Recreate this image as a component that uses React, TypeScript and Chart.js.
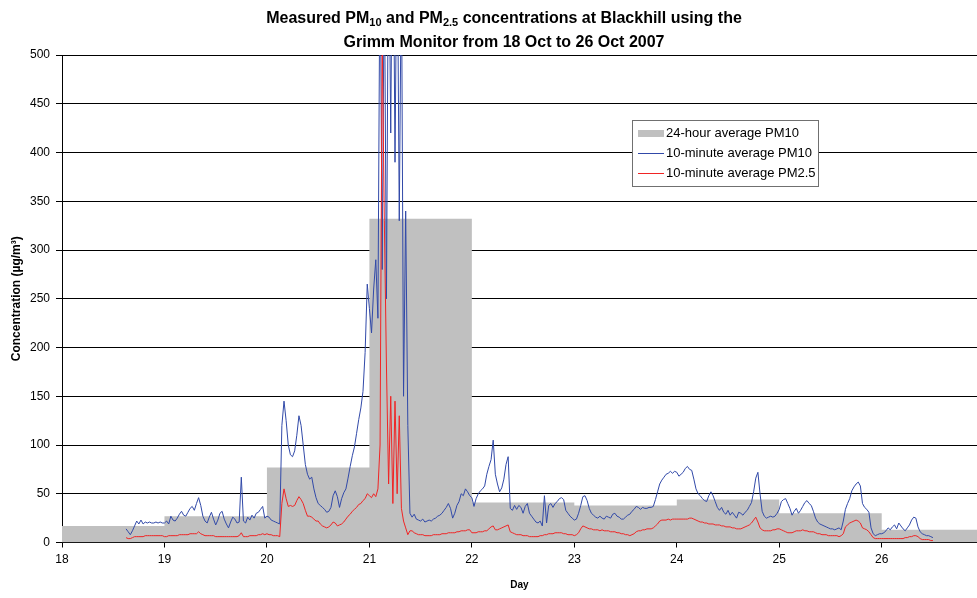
import React, { useEffect, useRef } from "react";
import { Chart, registerables } from "chart.js";

Chart.register(...registerables);

// ---------- DATA ----------
const FONT = '"Liberation Sans", Arial, sans-serif';

const TITLE_LINE1 = [
  { t: "Measured PM", sub: false },
  { t: "10", sub: true },
  { t: " and PM", sub: false },
  { t: "2.5", sub: true },
  { t: " concentrations at Blackhill using the", sub: false },
];
const TITLE_LINE2 = [{ t: "Grimm Monitor from 18 Oct to 26 Oct 2007", sub: false }];

const Y_TITLE = "Concentration (µg/m³)";
const X_TITLE = "Day";
const LEGEND_LABELS = ["24-hour average PM10", "10-minute average PM10", "10-minute average PM2.5"];

// 24-hour averages (value holds from that day to the next)
const avgDays = [18, 19, 20, 21, 22, 23, 24, 25, 26, 27];
const avgPM10 = [17, 27, 77, 332, 41, 38, 44, 30, 13, 13];

// 10-minute series sampled every half hour, starting at day 18.625
const SERIES_START = 18.625;
const SERIES_STEP = 1 / 48;

const pm10_d18 = [14, 11, 8, 12, 17, 22, 19, 23, 19, 21, 20, 21, 20, 20, 21, 20, 21, 20];
const pm10_d19 = [20, 22, 19, 27, 23, 22, 25, 29, 32, 28, 27, 31, 35, 37, 33, 40, 46, 38, 27, 22, 20, 26, 31, 24, 18, 23, 30, 32, 24, 19, 15, 21, 26, 24, 20, 21, 67, 22, 20, 26, 23, 28, 25, 30, 31, 34, 37, 25];
const pm10_d20 = [27, 26, 23, 22, 21, 20, 19, 120, 145, 125, 100, 90, 88, 94, 110, 130, 120, 100, 80, 70, 65, 67, 55, 46, 40, 38, 36, 34, 31, 32, 36, 48, 53, 47, 36, 45, 51, 55, 66, 78, 89, 98, 112, 126, 138, 155, 195, 265];
const pm10_d21 = [240, 215, 260, 290, 230, 620, 280, 600, 250, 650, 420, 700, 390, 650, 330, 600, 150, 340, 120, 30, 26, 29, 24, 23, 22, 24, 21, 22, 23, 22, 24, 25, 27, 28, 30, 33, 36, 40, 35, 25, 30, 38, 42, 50, 48, 55, 52, 48];
const pm10_d22 = [46, 37, 45, 50, 53, 55, 58, 70, 78, 85, 105, 70, 60, 52, 56, 65, 80, 88, 35, 33, 38, 34, 38, 36, 30, 37, 40, 30, 27, 24, 21, 20, 22, 17, 48, 20, 38, 40, 36, 40, 42, 45, 46, 44, 33, 30, 27, 25];
const pm10_d23 = [23, 24, 30, 38, 47, 48, 43, 35, 30, 28, 26, 25, 27, 25, 24, 27, 26, 25, 29, 30, 27, 26, 24, 24, 26, 28, 29, 32, 34, 37, 36, 34, 36, 35, 35, 36, 36, 37, 44, 52, 60, 64, 67, 70, 71, 73, 71, 73];
const pm10_d24 = [72, 68, 70, 72, 76, 78, 75, 74, 65, 55, 50, 48, 45, 43, 42, 48, 52, 48, 42, 36, 33, 36, 31, 29, 33, 28, 31, 28, 25, 31, 30, 28, 31, 33, 37, 41, 52, 66, 72, 50, 32, 27, 25, 26, 27, 26, 27, 30];
const pm10_d25 = [34, 42, 44, 45, 40, 35, 28, 32, 35, 30, 33, 37, 41, 43, 40, 38, 32, 25, 21, 19, 18, 17, 16, 15, 14, 14, 13, 14, 15, 13, 22, 34, 40, 45, 53, 57, 60, 62, 58, 40, 36, 34, 31, 15, 9, 7, 8, 9];
const pm10_d26 = [9, 10, 12, 15, 13, 16, 18, 14, 20, 17, 14, 12, 15, 18, 23, 26, 25, 16, 11, 9, 8, 7, 7, 6, 5];

const pm25_d18 = [5, 4, 4, 5, 6, 6, 6, 6, 6, 7, 7, 7, 7, 7, 7, 7, 7, 7];
const pm25_d19 = [6, 6, 7, 7, 7, 7, 7, 8, 8, 8, 8, 8, 9, 9, 9, 9, 11, 9, 8, 7, 7, 7, 7, 7, 6, 6, 6, 6, 6, 6, 6, 6, 6, 6, 6, 7, 10, 6, 6, 6, 7, 7, 7, 7, 8, 8, 9, 8];
const pm25_d20 = [9, 8, 8, 7, 7, 7, 6, 40, 55, 45, 37, 38, 37, 38, 43, 47, 44, 40, 33, 27, 27, 26, 24, 22, 22, 19, 17, 16, 15, 16, 18, 21, 20, 17, 18, 19, 21, 24, 27, 29, 32, 34, 36, 39, 40, 43, 45, 50];
const pm25_d21 = [48, 46, 50, 47, 55, 100, 520, 330, 180, 60, 150, 40, 145, 50, 130, 35, 22, 15, 8, 12, 12, 10, 9, 8, 8, 8, 7, 7, 7, 7, 8, 8, 8, 8, 9, 9, 9, 10, 10, 10, 10, 11, 11, 12, 12, 12, 13, 13];
const pm25_d22 = [10, 10, 10, 11, 11, 11, 12, 12, 14, 16, 17, 13, 13, 14, 15, 16, 17, 18, 11, 10, 9, 8, 8, 8, 7, 7, 7, 6, 6, 6, 6, 6, 7, 7, 8, 8, 9, 9, 9, 10, 10, 10, 10, 9, 9, 8, 8, 8];
const pm25_d23 = [7, 8, 10, 14, 17, 16, 15, 14, 14, 13, 13, 13, 12, 13, 12, 12, 12, 11, 11, 11, 10, 10, 9, 9, 8, 8, 7, 8, 9, 11, 12, 12, 13, 13, 14, 14, 14, 15, 17, 19, 22, 23, 23, 23, 24, 23, 24, 24];
const pm25_d24 = [24, 24, 24, 24, 24, 24, 25, 25, 24, 23, 22, 21, 21, 20, 20, 19, 19, 19, 18, 18, 18, 17, 17, 16, 16, 16, 15, 15, 14, 14, 14, 15, 16, 17, 18, 20, 23, 26, 21, 15, 13, 12, 12, 12, 12, 13, 13, 14];
const pm25_d25 = [14, 13, 12, 11, 10, 10, 10, 11, 12, 12, 12, 13, 12, 12, 11, 11, 11, 10, 9, 9, 8, 8, 8, 7, 7, 7, 7, 7, 6, 7, 9, 16, 18, 20, 21, 22, 23, 22, 20, 15, 14, 13, 11, 8, 5, 4, 4, 4];
const pm25_d26 = [4, 4, 4, 4, 4, 4, 4, 4, 4, 4, 4, 5, 5, 6, 6, 7, 7, 6, 4, 3, 3, 3, 3, 2, 2];

const pm10Values = [
  ...pm10_d18, ...pm10_d19, ...pm10_d20, ...pm10_d21, ...pm10_d22,
  ...pm10_d23, ...pm10_d24, ...pm10_d25, ...pm10_d26,
];
const pm25Values = [
  ...pm25_d18, ...pm25_d19, ...pm25_d20, ...pm25_d21, ...pm25_d22,
  ...pm25_d23, ...pm25_d24, ...pm25_d25, ...pm25_d26,
];

const X_MIN = 18;
const X_MAX = 26.93;
const Y_MIN = 0;
const Y_MAX = 500;

const COLOR_GRAY = "#C0C0C0";
const COLOR_BLUE = "#3149A8";
const COLOR_RED = "#F02424";

// ---------- PLUGINS ----------
const titlePlugin = {
  id: "richTitle",
  afterDraw(chart: any) {
    const ctx = chart.ctx as CanvasRenderingContext2D;
    const mainFont = `bold 16px ${FONT}`;
    const subFont = `bold 11px ${FONT}`;
    const cx = 504;
    const drawLine = (segs: { t: string; sub: boolean }[], baseY: number) => {
      let total = 0;
      for (const s of segs) {
        ctx.font = s.sub ? subFont : mainFont;
        total += ctx.measureText(s.t).width;
      }
      let x = cx - total / 2;
      ctx.textBaseline = "alphabetic";
      ctx.textAlign = "left";
      ctx.fillStyle = "#000";
      for (const s of segs) {
        ctx.font = s.sub ? subFont : mainFont;
        ctx.fillText(s.t, x, s.sub ? baseY + 3 : baseY);
        x += ctx.measureText(s.t).width;
      }
    };
    ctx.save();
    drawLine(TITLE_LINE1, 23);
    drawLine(TITLE_LINE2, 47);
    ctx.restore();
  },
};

const legendPlugin = {
  id: "boxLegend",
  afterDraw(chart: any) {
    const ctx = chart.ctx as CanvasRenderingContext2D;
    const bx = 632.5, by = 120.5, bw = 186, bh = 66;
    ctx.save();
    ctx.fillStyle = "#fff";
    ctx.fillRect(bx, by, bw, bh);
    ctx.strokeStyle = "#707070";
    ctx.lineWidth = 1;
    ctx.strokeRect(bx, by, bw, bh);
    const rows = [133, 153, 173];
    ctx.fillStyle = COLOR_GRAY;
    ctx.fillRect(638, 130, 26, 7);
    ctx.fillStyle = COLOR_BLUE;
    ctx.fillRect(638, rows[1], 26, 1);
    ctx.fillStyle = COLOR_RED;
    ctx.fillRect(638, rows[2], 26, 1);
    ctx.fillStyle = "#000";
    ctx.font = `13px ${FONT}`;
    ctx.textBaseline = "middle";
    ctx.textAlign = "left";
    LEGEND_LABELS.forEach((l, i) => ctx.fillText(l, 666, rows[i] + (i === 0 ? 0 : 0.5)));
    ctx.restore();
  },
};

export default function App() {
  const ref = useRef<HTMLCanvasElement | null>(null);

  useEffect(() => {
    if (!ref.current) return;
    const pm10Data = pm10Values.map((v, i) => ({ x: SERIES_START + i * SERIES_STEP, y: v }));
    const pm25Data = pm25Values.map((v, i) => ({ x: SERIES_START + i * SERIES_STEP, y: v }));
    const avgData = avgDays.map((d, i) => ({ x: d, y: avgPM10[i] }));

    const chart = new Chart(ref.current, {
      type: "line",
      data: {
        datasets: [
          {
            label: LEGEND_LABELS[2],
            data: pm25Data,
            borderColor: COLOR_RED,
            borderWidth: 1,
            pointRadius: 0,
            tension: 0,
            fill: false,
            order: 0,
          },
          {
            label: LEGEND_LABELS[1],
            data: pm10Data,
            borderColor: COLOR_BLUE,
            borderWidth: 1,
            pointRadius: 0,
            tension: 0,
            fill: false,
            order: 1,
          },
          {
            label: LEGEND_LABELS[0],
            data: avgData,
            borderColor: "rgba(0,0,0,0)",
            borderWidth: 0,
            backgroundColor: COLOR_GRAY,
            pointRadius: 0,
            stepped: true,
            fill: "origin",
            order: 2,
          },
        ],
      },
      options: {
        responsive: false,
        animation: false,
        devicePixelRatio: 1,
        layout: { padding: { top: 55, left: 0, right: 0, bottom: 0 } },
        plugins: {
          legend: { display: false },
          title: { display: false },
          tooltip: { enabled: false },
        },
        scales: {
          x: {
            type: "linear",
            min: X_MIN,
            max: X_MAX,
            afterBuildTicks: (scale: any) => {
              scale.ticks = scale.ticks.filter((t: any) => Number.isInteger(t.value));
            },
            afterFit: (scale: any) => {
              scale.height = 55.5;
            },
            ticks: {
              stepSize: 1,
              color: "#000",
              font: { family: FONT, size: 12 },
              padding: 5,
              maxRotation: 0,
              autoSkip: false,
            },
            grid: {
              drawOnChartArea: false,
              drawTicks: true,
              tickLength: 5,
              color: "#000",
            },
            border: { display: true, color: "#000", width: 1 },
            title: {
              display: true,
              text: X_TITLE,
              color: "#000",
              font: { family: FONT, size: 10, weight: "bold" },
              padding: { top: 0, bottom: 7 },
            },
          },
          y: {
            type: "linear",
            min: Y_MIN,
            max: Y_MAX,
            afterFit: (scale: any) => {
              scale.width = 62;
            },
            ticks: {
              stepSize: 50,
              color: "#000",
              font: { family: FONT, size: 12 },
              padding: 6,
            },
            grid: {
              color: "#000",
              lineWidth: 1,
              drawTicks: true,
              tickLength: 6,
            },
            border: { display: true, color: "#000", width: 1 },
            title: {
              display: true,
              text: Y_TITLE,
              color: "#000",
              font: { family: FONT, size: 12, weight: "bold" },
              padding: { top: 9, bottom: 0 },
            },
          },
        },
      },
      plugins: [titlePlugin, legendPlugin],
    } as any);

    return () => chart.destroy();
  }, []);

  return (
    <div style={{ position: "absolute", left: 0, top: 0, width: 977, height: 598, background: "#fff" }}>
      <canvas ref={ref} width={977} height={598} />
    </div>
  );
}
